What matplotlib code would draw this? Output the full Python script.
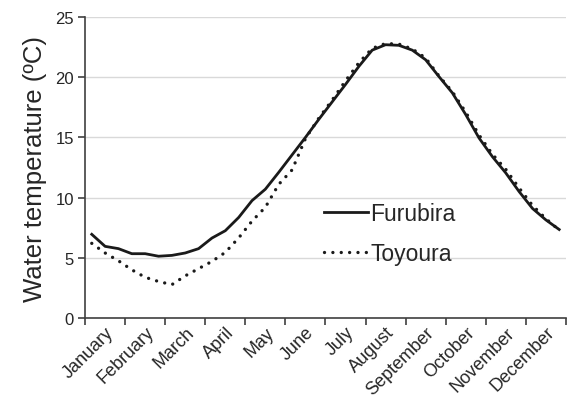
import numpy as np
import matplotlib
matplotlib.use("Agg")
import matplotlib.pyplot as plt

# ----------------------------
# Data (10-day means, 3 per month)
# ----------------------------
months = ["January", "February", "March", "April", "May", "June",
          "July", "August", "September", "October", "November", "December"]

furubira = [6.95, 5.95, 5.76, 5.34, 5.34, 5.13, 5.20, 5.40, 5.76,
            6.64, 7.25, 8.35, 9.75, 10.70, 12.10, 13.55, 15.00, 16.50,
            17.95, 19.40, 20.90, 22.25, 22.70, 22.65, 22.25, 21.45, 20.05,
            18.70, 16.90, 14.95, 13.40, 12.05, 10.50, 9.10, 8.15, 7.35]

toyoura = [6.20, 5.40, 4.75, 4.00, 3.38, 3.03, 2.77, 3.50, 4.10,
           4.70, 5.45, 6.65, 8.05, 9.20, 11.10, 12.30, 14.90, 16.60,
           18.10, 19.70, 21.20, 22.40, 22.80, 22.75, 22.35, 21.60, 20.10,
           18.80, 17.10, 15.20, 13.60, 12.35, 10.80, 9.35, 8.25, 7.30]

yticks = [0, 5, 10, 15, 20, 25]

# ----------------------------
# Plot
# ----------------------------
plt.rcParams["font.family"] = ["Liberation Sans", "DejaVu Sans"]

fig = plt.figure(figsize=(5.71, 4.10), dpi=100)
ax = fig.add_axes([0.149, 0.222, 0.842, 0.734])

x = (np.arange(len(furubira)) + 0.5) / 3.0
ax.plot(x, furubira, color="#1a1a1a", lw=2.0, label="Furubira", zorder=3)
ax.plot(x, toyoura, color="#1a1a1a", lw=2.4, linestyle=(0, (0.01, 2.5)),
        dash_capstyle="round", label="Toyoura", zorder=3)

ax.set_xlim(0, 12)
ax.set_ylim(0, 25)
ax.set_yticks(yticks)
ax.set_xticks(np.arange(13))
ax.set_xticklabels([])
ax.set_xticks(np.arange(12) + 0.5, minor=True)
ax.set_xticklabels(months, minor=True, rotation=45, ha="right",
                   rotation_mode="anchor", fontsize=13, color="#262626")
ax.tick_params(axis="x", which="minor", length=0, pad=4)
ax.tick_params(axis="x", which="major", length=5, width=1.2, color="#404040")
ax.tick_params(axis="y", length=5, width=1.2, color="#404040",
               labelsize=12, labelcolor="#262626", pad=3)

ax.grid(axis="y", color="#d9d9d9", lw=1.0, zorder=0)
for s in ["top", "right"]:
    ax.spines[s].set_visible(False)
for s in ["left", "bottom"]:
    ax.spines[s].set_color("#404040")
    ax.spines[s].set_linewidth(1.2)

ax.set_ylabel("Water temperature (ºC)", fontsize=18.5, color="#262626", labelpad=6)

ax.legend(loc="center left", bbox_to_anchor=(0.455, 0.28), frameon=False,
          fontsize=16.5, handlelength=1.9, handletextpad=0.1, labelspacing=0.75,
          labelcolor="#262626")

plt.savefig("out.png", dpi=100)
